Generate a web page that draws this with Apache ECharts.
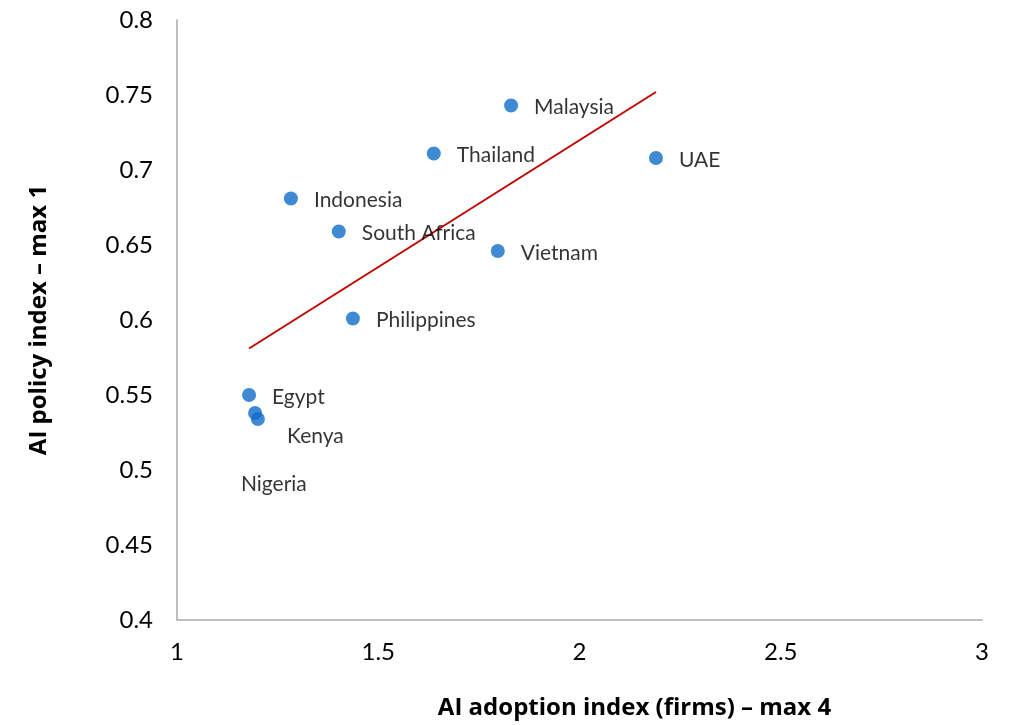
<!DOCTYPE html>
<html>
<head>
<meta charset="utf-8">
<script src="https://cdn.jsdelivr.net/npm/echarts@6/dist/echarts.min.js"></script>
<style>
  html, body { margin: 0; padding: 0; background: #fff; }
  #chart { width: 1010px; height: 725px; }
</style>
</head>
<body>
<div id="chart"></div>
<script>
// country points: AI adoption (x) vs AI policy (y)
const countries = ["Malaysia", "Thailand", "UAE", "Indonesia", "South Africa", "Vietnam", "Philippines", "Egypt", "Kenya", "Nigeria"];
const adoption = [1.83, 1.638, 2.19, 1.283, 1.402, 1.797, 1.437, 1.179, 1.194, 1.201];
const policy = [0.743, 0.711, 0.708, 0.681, 0.659, 0.646, 0.601, 0.550, 0.538, 0.534];

// linear trend line end points
const trendX = [1.179, 2.19];
const trendY = [0.581, 0.752];

// label offsets for the crowded bottom-left points
const labelOffsets = { Kenya: [9, 23], Nigeria: [-40, 65] };

const font = "Lato, 'Open Sans', sans-serif";
const titleFont = "'Open Sans', Lato, sans-serif";

const chart = echarts.init(document.getElementById("chart"));

const points = countries.map((c, i) => {
  const p = { name: c, value: [adoption[i], policy[i]] };
  if (labelOffsets[c]) {
    p.label = { offset: labelOffsets[c] };
  }
  return p;
});

chart.setOption({
  animation: false,
  grid: { left: 177, right: 28, top: 20, bottom: 105 },
  xAxis: {
    type: "value",
    min: 1,
    max: 3,
    interval: 0.5,
    name: "AI adoption index (firms) – max 4",
    nameLocation: "middle",
    nameGap: 76,
    nameTextStyle: { fontFamily: titleFont, fontSize: 24, fontWeight: "bold", color: "#000", padding: [0, 0, 0, 110] },
    axisLine: { lineStyle: { color: "#bfbfbf", width: 2 } },
    axisTick: { show: false },
    splitLine: { show: false },
    axisLabel: { fontFamily: font, fontSize: 24, color: "#000", margin: 20 }
  },
  yAxis: {
    type: "value",
    min: 0.4,
    max: 0.8,
    interval: 0.05,
    name: "AI policy index – max 1",
    nameLocation: "middle",
    nameGap: 126,
    nameTextStyle: { fontFamily: titleFont, fontSize: 24, fontWeight: "bold", color: "#000" },
    axisLine: { show: true, lineStyle: { color: "#bfbfbf", width: 2 } },
    axisTick: { show: false },
    splitLine: { show: false },
    axisLabel: {
      fontFamily: font, fontSize: 24, color: "#000", margin: 24,
      formatter: (v) => String(parseFloat(v.toFixed(2)))
    }
  },
  series: [
    {
      type: "line",
      data: trendX.map((x, i) => [x, trendY[i]]),
      symbol: "none",
      lineStyle: { color: "#c00000", width: 2 },
      z: 1
    },
    {
      type: "scatter",
      data: points,
      symbolSize: 14,
      itemStyle: { color: "#106cc8" },
      label: {
        show: true,
        position: "right",
        distance: 16,
        formatter: (p) => p.name,
        fontFamily: font,
        fontSize: 21,
        color: "#000",
        offset: [0, 2]
      },
      z: 2
    }
  ]
});
</script>
</body>
</html>
